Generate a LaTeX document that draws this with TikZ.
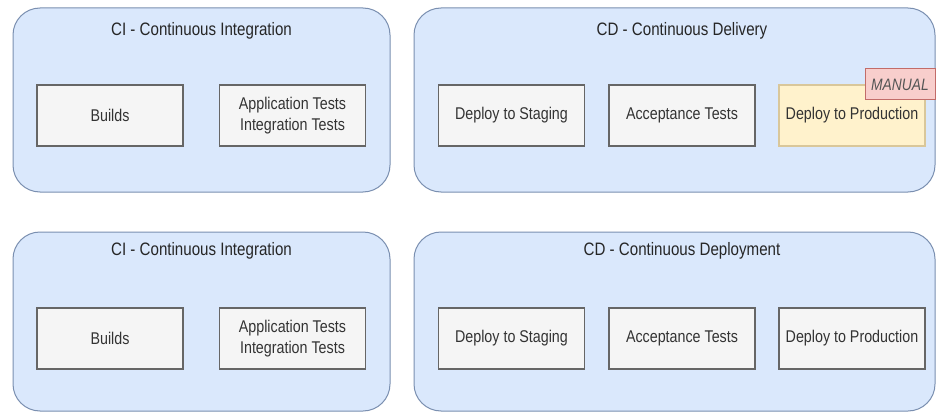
\documentclass[tikz,border=0pt]{standalone}
\usepackage{fontspec}
\setmainfont{Liberation Sans}[FakeStretch=0.84]
\usetikzlibrary{positioning}

\definecolor{groupfill}{HTML}{DAE8FC}
\definecolor{groupline}{HTML}{7A8FB0}
\definecolor{stepfill}{HTML}{F5F5F5}
\definecolor{stepline}{HTML}{666666}
\definecolor{steptext}{HTML}{333333}
\definecolor{manualfill}{HTML}{FFF2CC}
\definecolor{manualline}{HTML}{D9C79A}
\definecolor{flagfill}{HTML}{F8CECC}
\definecolor{flagline}{HTML}{C26C69}
\definecolor{flagtext}{HTML}{555555}

\tikzset{
  group/.style={draw=groupline, fill=groupfill, line width=1pt, rounded corners=27pt},
  grouptitle/.style={font=\fontsize{18}{21}\selectfont, text=black!85, inner sep=0pt},
  stagebox/.style={draw=stepline, fill=stepfill, line width=1.1pt, minimum width=146pt,
    minimum height=61pt, inner sep=0pt, align=center, text=steptext,
    font=\fontsize{17}{21}\selectfont},
  manualbox/.style={stagebox, draw=manualline, fill=manualfill},
  flag/.style={draw=flagline, fill=flagfill, line width=1pt, minimum width=70pt,
    minimum height=31pt, inner sep=0pt, text=flagtext,
    font=\fontsize{16.5}{20}\selectfont\itshape},
}

\begin{document}
\begin{tikzpicture}[x=1pt, y=-1pt]
  \useasboundingbox[fill=white] (0,0) rectangle (938,412);

  % --- Top row: continuous delivery pipeline
  \draw[group] (13,8) rectangle (390,192);
  \node[grouptitle] (ciTitleA) at (201.5,30.5) {CI - Continuous Integration};
  \node[stagebox] (buildsA) at (110,115.5) {Builds};
  \node[stagebox] (testsA) at (292.5,115.5) {Application Tests\\Integration Tests};

  \draw[group] (414,8) rectangle (935,192);
  \node[grouptitle] (cdTitleA) at (682,30.5) {CD - Continuous Delivery};
  \node[stagebox] (stagingA) at (511.5,115.5) {Deploy to Staging};
  \node[stagebox] (acceptA) at (682,115.5) {Acceptance Tests};
  \node[manualbox] (prodA) at (852,115.5) {Deploy to Production};
  \node[flag] (manual) at (900,84.5) {MANUAL};

  % --- Bottom row: continuous deployment pipeline
  \draw[group] (13,232) rectangle (390,411);
  \node[grouptitle] (ciTitleB) at (201.5,251) {CI - Continuous Integration};
  \node[stagebox] (buildsB) at (110,338.5) {Builds};
  \node[stagebox] (testsB) at (292.5,338.5) {Application Tests\\Integration Tests};

  \draw[group] (414,232) rectangle (935,411);
  \node[grouptitle] (cdTitleB) at (682,251) {CD - Continuous Deployment};
  \node[stagebox] (stagingB) at (511.5,338.5) {Deploy to Staging};
  \node[stagebox] (acceptB) at (682,338.5) {Acceptance Tests};
  \node[stagebox] (prodB) at (852,338.5) {Deploy to Production};
\end{tikzpicture}
\end{document}
